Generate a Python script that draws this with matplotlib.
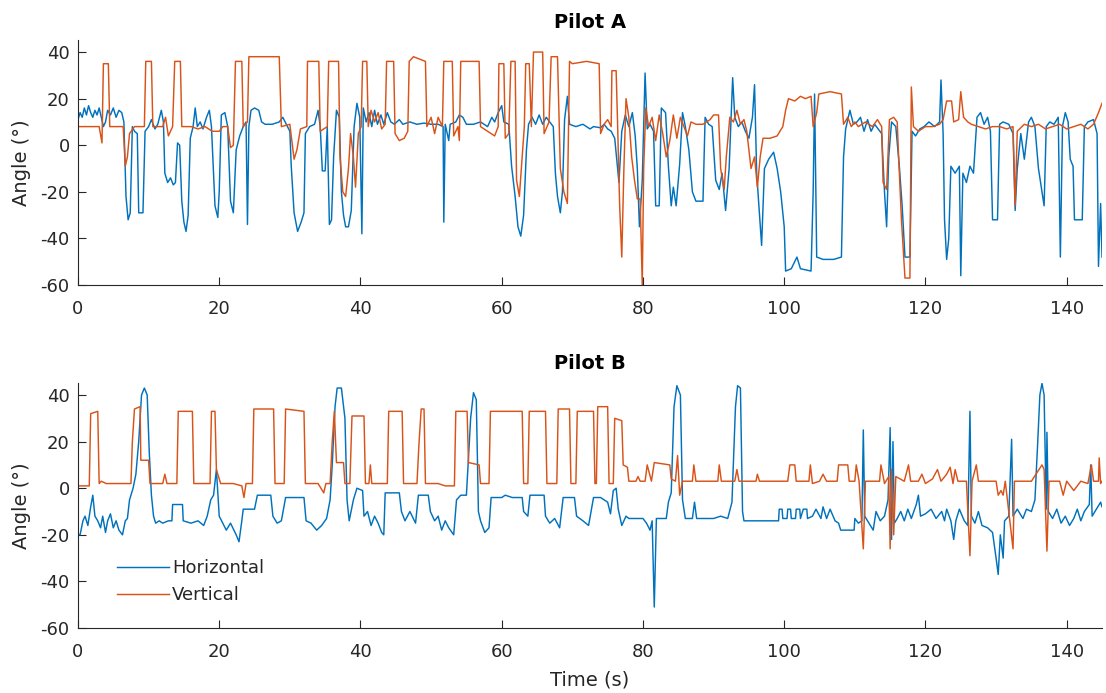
import numpy as np
import matplotlib
matplotlib.use("Agg")
import matplotlib.pyplot as plt

plt.rcParams['font.family'] = ['DejaVu Sans']
plt.rcParams['axes.unicode_minus'] = False

# ---- data: (time s, angle deg) breakpoints for each head-angle trace ----
pilot_a_horizontal = [
    (0.0, 11), (0.3, 14), (0.6, 12), (0.9, 16), (1.2, 13), (1.5, 17), (1.8, 14), (2.1, 12),
    (2.4, 15), (2.7, 13), (3.0, 16), (3.3, 12), (3.6, 8), (3.9, 10), (4.2, 15), (4.6, 13),
    (5.0, 16), (5.4, 12), (5.8, 15), (6.2, 14), (6.5, 10), (6.8, -22), (7.1, -32), (7.4, -29),
    (7.7, 8), (8.0, 6), (8.4, 5), (8.6, -29), (9.2, -29), (9.5, 6), (10.0, 8), (10.4, 11),
    (10.9, 7), (11.3, 9), (11.8, 15), (12.1, 10), (12.3, -12), (12.7, -16), (13.1, -14),
    (13.5, -17), (13.8, -16), (14.1, 1), (14.4, 0), (14.7, -24), (15.0, -33), (15.3, -37),
    (15.6, -30), (15.9, 3), (16.3, 8), (16.6, 16), (16.9, 8), (17.3, 10), (17.7, 7),
    (18.2, 12), (18.6, 15), (18.9, 8), (19.1, -6), (19.4, -26), (19.8, -31), (20.0, -20),
    (20.3, 13), (20.8, 14), (21.2, 8), (21.6, -24), (22.0, -29), (22.4, -2), (22.9, 4),
    (23.4, 8), (23.8, 10), (24.0, -34), (24.2, 8), (24.5, 15), (25.0, 16), (25.6, 15),
    (26.0, 10), (26.5, 9), (27.5, 9), (28.5, 10), (29.0, 12), (29.5, 9), (30.0, 6),
    (30.2, -9), (30.6, -29), (31.1, -37), (31.6, -33), (32.0, -29), (32.2, 5), (32.8, 8),
    (33.5, 9), (34.0, 15), (34.3, 8), (34.6, -11), (35.0, -11), (35.3, 8), (35.6, -34),
    (35.9, -32), (36.2, -5), (36.6, 15), (37.0, 12), (37.3, -20), (37.6, -30), (37.9, -35),
    (38.3, -35), (38.7, -28), (39.1, 8), (39.5, 18), (39.9, 12), (40.2, -38), (40.4, 16),
    (40.8, 10), (41.2, 14), (41.6, 8), (42.0, 15), (42.4, 9), (42.9, 13), (43.3, 9),
    (43.8, 14), (44.3, 10), (44.8, 9), (45.5, 11), (46.0, 9), (47.0, 10), (48.0, 9),
    (49.0, 9.5), (50.0, 9), (51.0, 9), (51.7, 8), (51.8, -33), (52.0, 9), (52.5, 2),
    (52.7, 9), (53.5, 10), (54.0, 13), (54.5, 12), (55.0, 9), (56.0, 9), (57.0, 10),
    (58.0, 8), (58.6, 12), (59.0, 10), (59.5, 14), (60.0, 17), (60.3, 10), (61.0, 9),
    (61.4, -9), (61.9, -22), (62.3, -35), (62.7, -39), (63.1, -30), (63.5, -2), (63.8, 9),
    (64.3, 12), (64.8, 9), (65.3, 13), (65.8, 9), (66.3, 12), (66.8, 10), (67.3, 8),
    (67.6, -12), (67.9, -22), (68.3, -29), (68.6, -20), (68.9, 11), (69.3, 21), (69.6, 9),
    (70.5, 8), (71.5, 9), (72.5, 7), (73.0, 8), (74.0, 7.5), (74.5, 9), (75.0, 7),
    (75.5, 6), (76.0, 3), (76.6, -16), (77.0, 6), (77.5, 13), (78.0, 8), (78.5, 14),
    (78.9, 4), (79.2, -10), (79.5, -35), (79.9, -15), (80.3, 31), (80.6, 7), (81.0, 9),
    (81.5, 6), (81.8, -26), (82.3, -26), (82.6, 16), (83.2, 14), (83.6, -9), (84.0, -26),
    (84.3, -18), (84.7, -26), (85.2, -8), (85.6, 14), (86.0, 8), (86.5, -2), (87.0, -20),
    (87.5, -24), (88.5, -24), (88.8, 12), (89.3, 9), (89.8, 8), (90.3, -15), (90.8, -19),
    (91.2, -12), (91.7, -28), (92.2, -10), (92.7, 29), (93.0, 12), (93.5, 8), (94.0, 10),
    (94.5, 6), (95.0, 3), (95.5, 12), (95.8, 26), (96.1, -12), (96.5, -30), (96.8, -43),
    (97.2, -10), (97.8, -6), (98.5, -3), (99.0, -10), (99.5, -20), (100.0, -35),
    (100.2, -54), (101.0, -53), (101.8, -48), (102.3, -53), (103.8, -54), (104.1, -20),
    (104.3, 22), (104.6, -48), (105.5, -49), (107.0, -49), (108.1, -48), (108.4, -5),
    (108.7, 7), (109.3, 15), (109.8, 9), (110.3, 10), (110.8, 12), (111.3, 6), (111.8, 11),
    (112.3, 6), (112.8, 9), (113.3, 7), (113.8, 5), (114.2, -20), (114.5, -35), (114.8, -5),
    (115.2, 10), (115.8, 8), (116.3, -9), (116.7, -26), (117.1, -48), (117.8, -48),
    (118.1, 6), (118.6, 4), (119.2, 7), (119.8, 8), (120.5, 10), (121.3, 8), (122.0, 10),
    (122.2, 28), (122.5, 5), (122.7, -32), (123.0, -49), (123.3, -40), (123.6, -9),
    (124.2, -12), (124.8, -9), (125.0, -56), (125.3, -12), (125.8, -16), (126.3, -9),
    (126.8, -12), (127.3, 12), (127.8, 14), (128.3, 9), (128.8, 12), (129.2, 6),
    (129.5, -32), (130.2, -32), (130.5, 9), (131.0, 10), (131.8, 9), (132.4, 5),
    (132.7, -28), (133.0, -10), (133.5, 5), (134.0, -6), (134.6, 10), (135.0, 12),
    (135.5, 8), (136.0, -10), (136.5, -20), (136.8, -26), (137.1, 8), (137.6, 10),
    (138.2, 9), (138.8, 12), (139.1, -48), (139.4, 8), (139.8, 14), (140.2, 10),
    (140.5, -6), (140.9, -9), (141.1, -32), (142.2, -32), (142.5, 8), (143.0, 10),
    (143.8, 11), (144.3, 5), (144.5, -52), (144.8, -25), (145.0, -48),
]

pilot_a_vertical = [
    (0.0, 8), (1.5, 8), (3.0, 8), (3.4, 1), (3.6, 35), (4.3, 35), (4.5, 8), (5.5, 8),
    (6.4, 8), (6.7, -9), (7.0, -5), (7.3, 5), (8.0, 8), (9.4, 8), (9.6, 36), (10.4, 36),
    (10.6, 8), (12.0, 8), (12.4, 12), (12.8, 4), (13.4, 8), (13.7, 36), (14.5, 36),
    (14.7, 8), (16.0, 8), (17.0, 7), (18.0, 8), (19.0, 6), (20.0, 6), (20.5, 8), (21.2, 8),
    (21.6, -1), (22.0, 0), (22.3, 36), (23.2, 36), (23.4, 8), (24.0, 10), (24.2, 38),
    (28.5, 38), (28.8, 8), (30.0, 9), (30.6, -6), (31.0, -2), (31.5, 7), (32.4, 8),
    (32.5, 36), (34.1, 36), (34.3, 6), (35.3, 8), (35.5, 36), (36.9, 36), (37.1, -5),
    (37.5, -20), (37.9, -22), (38.3, -10), (38.6, 5), (39.0, -5), (39.3, -18), (39.7, 5),
    (40.1, 8), (40.3, 36), (40.9, 36), (41.1, 8), (41.5, 15), (42.0, 10), (42.5, 14),
    (43.0, 7), (43.5, 9), (43.7, 36), (44.7, 36), (44.9, 5), (45.5, 2), (46.2, 3),
    (46.7, 6), (46.9, 36), (47.5, 38), (49.2, 36), (49.4, 8), (50.0, 12), (50.5, 5),
    (51.0, 12), (51.6, 8), (51.8, 36), (53.0, 36), (53.2, 4), (53.8, 8), (54.0, 2),
    (54.2, 36), (56.8, 36), (57.0, 8), (58.0, 6), (59.0, 4), (59.5, 8), (59.6, 35),
    (60.3, 35), (60.5, 3), (61.0, 5), (61.3, 36), (61.9, 36), (62.1, -15), (62.5, -22),
    (62.9, -5), (63.2, 8), (63.4, 35), (63.9, 35), (64.2, 8), (64.5, 40), (65.8, 40),
    (66.0, 5), (66.7, 10), (67.0, 38), (67.9, 38), (68.3, -10), (68.8, -20), (69.3, -25),
    (69.6, 36), (70.0, 35), (72.0, 36), (73.8, 35), (74.0, 5), (74.5, 9), (75.0, 11),
    (75.5, 8), (75.6, 32), (76.2, 32), (76.4, 10), (76.7, -26), (77.0, -48), (77.3, -10),
    (77.6, 20), (78.0, 12), (78.4, -5), (78.8, -15), (79.2, -23), (79.6, -23), (79.9, -60),
    (80.1, -10), (80.4, 16), (80.8, 8), (81.3, 12), (81.8, 2), (82.3, 13), (82.8, 5),
    (83.3, -5), (83.8, 2), (84.3, 13), (84.8, 3), (85.3, 12), (85.8, 8), (86.3, 4),
    (86.8, 10), (87.5, 9), (88.5, 9), (89.5, 11), (90.0, 13), (90.7, 13), (91.0, -10),
    (91.5, -19), (91.8, -5), (92.3, 12), (92.8, 10), (93.3, 15), (93.8, 9), (94.3, 11),
    (94.7, 6), (95.3, -10), (95.8, -5), (96.2, -18), (96.6, -5), (97.0, 3), (98.0, 3),
    (99.0, 4), (99.8, 8), (100.2, 15), (100.6, 20), (101.5, 19), (102.3, 21), (103.0, 20),
    (103.8, 21), (104.1, 8), (104.6, 14), (104.9, 22), (106.5, 23), (108.1, 22),
    (108.4, 9), (109.0, 12), (109.5, 8), (110.0, 10), (110.5, 8), (111.5, 10), (112.5, 8),
    (113.2, 11), (113.8, 8), (114.0, -16), (114.5, -19), (114.9, 11), (115.5, 12),
    (116.0, 10), (116.2, -5), (116.6, -32), (117.1, -57), (117.8, -57), (118.0, 25),
    (118.3, 8), (119.0, 6), (120.0, 8), (121.0, 8), (122.0, 9), (122.5, 11), (123.0, 19),
    (123.7, 19), (124.0, 10), (124.7, 11), (125.0, 23), (125.4, 12), (126.0, 10),
    (126.5, 9), (127.5, 8), (128.5, 7), (129.5, 8), (130.5, 8), (131.5, 7), (132.4, 8),
    (132.7, -26), (133.0, 6), (134.0, 9), (135.0, 8), (136.0, 9), (137.0, 7), (138.0, 8),
    (139.0, 9), (140.0, 7), (141.0, 8), (142.0, 9), (143.0, 7), (143.8, 9), (144.5, 14),
    (145.0, 18),
]

pilot_b_horizontal = [
    (0.0, -20), (0.3, -20), (0.7, -14), (1.0, -12), (1.4, -16), (1.8, -8), (2.1, -3),
    (2.4, -12), (2.8, -14), (3.2, -17), (3.5, -12), (3.9, -19), (4.2, -14), (4.6, -11),
    (5.0, -17), (5.4, -14), (5.8, -18), (6.3, -20), (6.7, -14), (7.0, -13), (7.3, -5),
    (7.8, 0), (8.2, 6), (8.6, 20), (9.0, 40), (9.4, 43), (9.8, 40), (10.1, 15), (10.4, -3),
    (10.7, -12), (11.0, -15), (11.5, -14), (12.0, -15), (12.8, -14), (13.3, -14),
    (13.4, -7), (14.8, -7), (14.9, -14), (16.0, -15), (17.0, -14), (17.8, -16), (18.3, -12),
    (18.8, -5), (19.2, -3), (19.6, 8), (20.0, -12), (20.5, -15), (21.0, -18), (21.6, -15),
    (22.4, -20), (22.8, -23), (23.2, -14), (23.4, -9), (25.0, -9), (25.4, -3), (27.3, -3),
    (27.6, -12), (28.2, -15), (28.8, -14), (29.4, -4), (32.0, -4), (32.3, -14), (33.0, -15),
    (33.8, -18), (34.5, -16), (35.2, -13), (35.7, -5), (36.0, 10), (36.4, 35), (36.7, 43),
    (37.3, 43), (37.8, 30), (38.1, -5), (38.4, -14), (39.0, -5), (39.5, 0), (40.3, -1),
    (40.5, -12), (41.0, -10), (41.5, -16), (42.0, -12), (42.5, -15), (43.0, -19),
    (43.3, -20), (43.5, -2), (45.5, -2), (45.8, -10), (46.3, -14), (47.0, -10), (47.8, -15),
    (48.2, -3), (49.6, -3), (49.9, -10), (50.5, -14), (51.0, -12), (51.5, -18), (52.0, -14),
    (52.5, -17), (53.2, -20), (53.6, -5), (54.2, -3), (55.0, -3), (55.6, 30), (56.0, 41),
    (56.4, 38), (56.7, -10), (57.0, -14), (57.6, -19), (58.2, -17), (58.5, -4), (60.0, -4),
    (60.5, -3), (61.5, -4), (62.9, -4), (63.1, -10), (63.7, -12), (64.0, -3), (66.0, -3),
    (66.2, -12), (66.8, -15), (67.5, -13), (68.2, -17), (68.7, -4), (70.3, -4), (70.6, -12),
    (71.5, -14), (72.3, -16), (73.0, -4), (74.0, -4), (75.0, -6), (75.4, -11), (75.8, -1),
    (76.2, 0), (76.5, -9), (77.0, -16), (77.6, -12), (78.0, -13), (79.0, -13), (80.0, -13),
    (80.5, -15), (81.0, -18), (81.3, -14), (81.6, -51), (81.9, -13), (82.5, -13),
    (83.3, -13), (83.6, -6), (84.0, -2), (84.4, 35), (84.8, 44), (85.3, 40), (85.6, -5),
    (86.0, -13), (87.0, -13), (87.3, -6), (87.6, -13), (89.0, -13), (90.0, -13),
    (91.0, -12), (92.0, -13), (92.6, -6), (93.1, 35), (93.4, 44), (93.8, 43), (94.1, -10),
    (94.3, -14), (96.0, -14), (98.0, -14), (99.2, -14), (99.3, -9), (99.7, -9), (99.8, -13),
    (100.4, -13), (100.5, -9), (100.9, -9), (101.0, -13), (101.6, -13), (101.7, -9),
    (102.2, -9), (102.3, -13), (102.7, -9), (103.2, -9), (103.3, -13), (104.0, -12),
    (104.5, -9), (105.2, -13), (105.5, -8), (106.0, -13), (106.5, -9), (107.2, -14),
    (107.7, -15), (108.0, -18), (109.9, -18), (110.0, -13), (110.5, -15), (111.0, -14),
    (111.2, 25), (111.4, -12), (112.0, -15), (112.6, -18), (113.0, -10), (113.6, -14),
    (114.2, -12), (114.7, -5), (115.0, 26), (115.2, -22), (115.4, 20), (115.6, -15),
    (116.0, -13), (116.5, -10), (117.0, -14), (117.5, -9), (118.0, -13), (118.7, -7),
    (119.0, -3), (119.3, -12), (120.0, -11), (120.8, -9), (121.5, -13), (122.3, -10),
    (122.7, -14), (123.0, -9), (123.6, -14), (124.0, -22), (124.3, -14), (124.8, -9),
    (125.5, -14), (126.0, -16), (126.3, 33), (126.5, -12), (127.0, -15), (127.5, -10),
    (128.0, -16), (128.8, -17), (129.5, -19), (130.0, -30), (130.3, -37), (130.6, -20),
    (131.0, -30), (131.2, -14), (131.8, -12), (132.2, 21), (132.4, -12), (133.0, -9),
    (133.8, -13), (134.3, -9), (135.0, -10), (135.5, -5), (135.9, 20), (136.2, 40),
    (136.5, 45), (136.8, 40), (137.1, -9), (137.2, 24), (137.4, -10), (138.0, -13),
    (138.6, -9), (139.2, -15), (139.8, -12), (140.4, -16), (141.0, -13), (141.5, -9),
    (142.0, -14), (142.5, -10), (143.2, -7), (143.4, 10), (143.6, -12), (144.2, -9),
    (144.8, -6), (145.0, -8),
]

pilot_b_vertical = [
    (0.0, 1), (1.6, 1), (1.8, 32), (2.8, 33), (3.0, 2), (3.3, 3), (4.0, 2), (6.0, 2),
    (7.5, 2), (7.7, 20), (8.0, 34), (8.8, 35), (8.9, 12), (10.0, 12), (10.2, 2), (12.0, 2),
    (12.3, 6), (12.6, 2), (14.0, 2), (14.2, 33), (16.2, 33), (16.4, 2), (18.7, 2),
    (18.9, 33), (19.4, 33), (19.6, 8), (20.2, 2), (22.0, 2), (23.2, 1), (23.5, -4),
    (23.8, 2), (24.7, 2), (24.9, 34), (27.7, 34), (27.9, 2), (29.2, 2), (29.4, 34),
    (32.0, 33), (32.2, 2), (34.0, 2), (34.8, -2), (35.1, 2), (35.7, 2), (36.0, 20),
    (36.3, 33), (36.6, 11), (37.6, 11), (37.8, 2), (38.5, 2), (38.8, 31), (40.5, 31),
    (40.7, 2), (41.2, 2), (41.4, 10), (41.6, 2), (43.8, 2), (44.0, 33), (45.9, 33),
    (46.1, 2), (48.0, 2), (48.3, 20), (48.6, 34), (49.0, 34), (49.2, 2), (51.0, 2),
    (52.0, 1), (53.3, 1), (53.5, 33), (55.1, 33), (55.3, 11), (56.8, 10), (57.0, 2),
    (58.2, 2), (58.4, 33), (62.9, 33), (63.1, 2), (63.7, 2), (63.9, 33), (66.2, 33),
    (66.4, 2), (67.8, 2), (68.0, 34), (69.6, 34), (69.8, 2), (70.5, 2), (70.7, 33),
    (73.0, 33), (73.2, 2), (73.4, 2), (73.6, 35), (75.0, 35), (75.2, 2), (75.8, 2),
    (76.0, 30), (77.0, 29), (77.2, 10), (77.8, 9), (78.0, 3), (79.0, 3), (79.3, 5),
    (79.6, 3), (80.3, 3), (80.6, 10), (81.2, 3), (81.6, 11), (83.8, 10), (84.0, 4),
    (84.6, 3), (84.9, 14), (85.2, -3), (85.6, 3), (87.0, 3), (87.2, 10), (87.5, 3),
    (90.6, 3), (90.8, 10), (91.1, 3), (93.0, 3), (93.3, 8), (93.6, 3), (96.0, 3),
    (96.2, 6), (96.5, 3), (100.5, 3), (100.8, 10), (101.5, 10), (101.7, 3), (103.5, 3),
    (103.7, 10), (104.0, 2), (105.0, 3), (105.5, 6), (106.0, 3), (107.5, 3), (107.7, 10),
    (109.0, 10), (109.2, 3), (110.0, 3), (110.2, 10), (110.6, 3), (111.2, -26), (111.5, 3),
    (113.5, 3), (113.7, 10), (114.2, 2), (114.8, 5), (115.0, -26), (115.2, 8),
    (115.5, -20), (115.8, 5), (117.0, 3), (117.6, 10), (117.9, 3), (119.0, 3), (119.5, 6),
    (120.0, 2), (121.0, 4), (121.7, 8), (122.2, 3), (123.0, 6), (123.5, 9), (123.9, 2),
    (124.2, 8), (124.6, 3), (125.8, 3), (126.3, -29), (126.6, 3), (127.2, 10), (127.5, 3),
    (130.0, 3), (130.3, -3), (130.7, -1), (131.0, -3), (131.3, 3), (132.4, -26),
    (132.6, 3), (135.0, 3), (136.5, 10), (136.8, 8), (137.2, -27), (137.5, 3), (139.0, 3),
    (139.5, -3), (140.0, 3), (141.0, -1), (142.0, 3), (143.0, 2), (143.5, 10), (143.8, 3),
    (144.5, 3), (144.6, 13), (144.8, 2), (145.0, 3),
]

panel_titles = ["Pilot A", "Pilot B"]
series_names = ["Horizontal", "Vertical"]
x_ticks = [0, 20, 40, 60, 80, 100, 120, 140]
y_ticks = [-60, -40, -20, 0, 20, 40]

BLUE = "#0072BD"
ORANGE = "#D95319"
INK = "#262626"

fig = plt.figure(figsize=(11.06, 6.93), dpi=100)
ax_a = fig.add_axes([0.0705, 0.5887, 0.9259, 0.353])
ax_b = fig.add_axes([0.0705, 0.0938, 0.9259, 0.353])

panels = [
    (ax_a, pilot_a_horizontal, pilot_a_vertical, 1.075),
    (ax_b, pilot_b_horizontal, pilot_b_vertical, 1.083),
]

for (ax, horiz, vert, title_y), title in zip(panels, panel_titles):
    h = np.array(horiz)
    v = np.array(vert)
    ax.plot(h[:, 0], h[:, 1], color=BLUE, lw=1.05, label=series_names[0])
    ax.plot(v[:, 0], v[:, 1], color=ORANGE, lw=1.05, label=series_names[1])
    ax.set_xlim(0, 145)
    ax.set_ylim(-60, 45)
    ax.set_xticks(x_ticks)
    ax.set_yticks(y_ticks)
    for side in ("top", "right"):
        ax.spines[side].set_visible(False)
    for side in ("left", "bottom"):
        ax.spines[side].set_color(INK)
        ax.spines[side].set_linewidth(0.8)
    ax.tick_params(direction="in", length=5.5, width=0.8, color=INK,
                   labelcolor=INK, labelsize=13)
    ax.tick_params(axis="y", pad=6)
    ax.tick_params(axis="x", pad=10.5)
    ax.set_ylabel("Angle (°)", fontsize=14, color=INK)
    ax.yaxis.set_label_coords(-0.046, 0.5)
    ax.text(0.5, title_y, title, transform=ax.transAxes, ha="center", va="center",
            fontsize=14, fontweight="bold", color="black")

ax_b.set_xlabel("Time (s)", fontsize=14, color=INK, va="top")
ax_b.xaxis.set_label_coords(0.5, -0.172)

leg = ax_b.legend(loc="upper left", bbox_to_anchor=(0.038, 0.282), frameon=False,
                  fontsize=13, handlelength=2.9, handletextpad=0.15, borderpad=0,
                  borderaxespad=0, labelspacing=0.5)
for t in leg.get_texts():
    t.set_color(INK)

fig.savefig("out.png", dpi=100)
